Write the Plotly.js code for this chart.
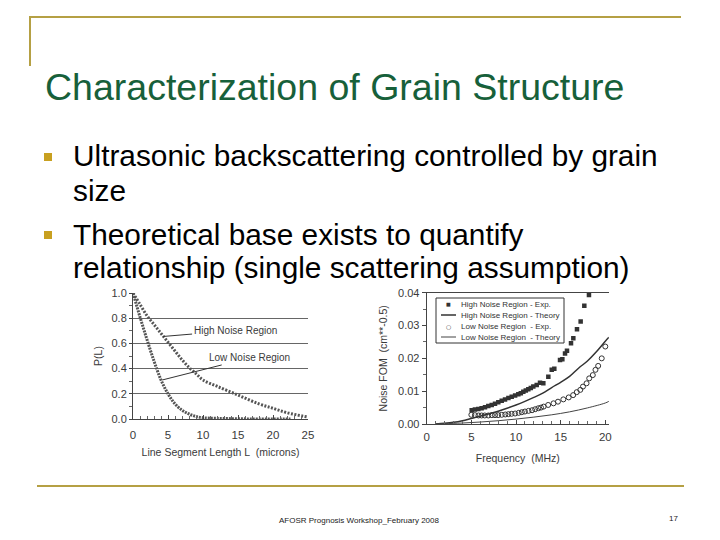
<!DOCTYPE html>
<html><head><meta charset="utf-8">
<script src="https://cdn.plot.ly/plotly-3.0.1.min.js"></script>
<style>html,body{margin:0;padding:0;background:#fff}#chart{width:720px;height:540px}</style>
</head><body><div id="chart"></div><script>
// ---- slide text ----
const slideTitle = "Characterization of Grain Structure";
const bulletLines = [
  "Ultrasonic backscattering controlled by grain",
  "size",
  "Theoretical base exists to quantify",
  "relationship (single scattering assumption)"
];
const footerText = "AFOSR Prognosis Workshop_February 2008";
const pageNumber = "17";

// ---- left chart: P(L) vs line segment length ----
const segLenHigh = [0,1,2,3,4,5,6,7,8,9,10,12,15,18,20,22,25];
const pHigh      = [1.0,0.91,0.82,0.75,0.68,0.61,0.54,0.47,0.41,0.36,0.31,0.26,0.19,0.12,0.085,0.05,0.015];
const segLenLow  = [0,1,2,3,4,5,6,7,8,9,10,12,15,18,22.5];
const pLow       = [1.0,0.81,0.63,0.46,0.31,0.2,0.12,0.07,0.04,0.02,0.01,0.005,0.002,0.0,0.0];
const leftXTicks = [0,5,10,15,20,25];
const leftYTicks = [0.0,0.2,0.4,0.6,0.8,1.0];

// ---- right chart: Noise FOM vs frequency ----
const freqHighExp = [5.04,5.4,5.78,6.15,6.53,6.9,7.28,7.65,8.02,8.4,8.77,9.15,9.52,9.9,10.26,10.54,10.82,11.1,11.38,11.66,11.94,12.32,12.69,13.06,13.62,14.0,14.29,14.93,15.19,15.49,15.71,16.16,16.42,16.83,17.24,17.65,18.17];
const fomHighExp  = [0.0042,0.0044,0.0046,0.0048,0.0051,0.0055,0.0058,0.0062,0.0066,0.0071,0.0075,0.0079,0.0083,0.0087,0.0091,0.0094,0.0098,0.0102,0.0106,0.0110,0.0114,0.0119,0.0126,0.0124,0.0144,0.0165,0.0168,0.0195,0.0197,0.0215,0.0223,0.0246,0.0261,0.0289,0.0312,0.0360,0.0393];
const freqHighTh = [1,2,3,4,5,6,7,8,9,10,11,12,13,14,15,16,17,18,19,20,20.4];
const fomHighTh  = [0,0.0002,0.0005,0.0010,0.0017,0.0024,0.0031,0.0039,0.0048,0.0058,0.0069,0.0081,0.0094,0.0111,0.0127,0.0145,0.0170,0.0192,0.0220,0.0252,0.0264];
const freqLowExp = [5.0,5.4,5.8,6.15,6.5,6.9,7.3,7.65,8.0,8.4,8.8,9.15,9.5,9.9,10.3,10.65,11.0,11.4,11.8,12.15,12.5,12.8,13.1,13.6,14.2,14.7,15.3,15.9,16.4,16.8,17.2,17.5,17.9,18.2,18.6,18.9,19.2,19.6,20.0];
const fomLowExp  = [0.0028,0.0027,0.0026,0.0026,0.0026,0.0026,0.0027,0.0027,0.0027,0.0028,0.0029,0.0030,0.0031,0.0032,0.0034,0.0036,0.0038,0.0040,0.0042,0.0045,0.0048,0.0050,0.0053,0.0058,0.0063,0.0068,0.0075,0.0081,0.0088,0.0097,0.0104,0.0114,0.0124,0.0139,0.0149,0.0165,0.0177,0.0200,0.0236];
const freqLowTh = [1,2,4,6,8,10,12,14,16,18,20,20.4];
const fomLowTh  = [0,0.0001,0.0003,0.0006,0.0010,0.0015,0.0021,0.0028,0.0037,0.0049,0.0064,0.0069];
const seriesNames = ["High Noise Region - Exp.","High Noise Region - Theory","Low Noise Region  - Exp.","Low Noise Region  - Theory"];
const rightXTicks = [0,5,10,15,20];
const rightYTicks = [0.00,0.01,0.02,0.03,0.04];

const W = 720, H = 540;
const px = v => v / W, py = v => 1 - v / H;
const ink = '#3a3a3a';
const gold = '#b5a044';
const font = 'Liberation Sans, Arial, sans-serif';

const traces = [
  {x: segLenHigh, y: pHigh, xaxis:'x', yaxis:'y', mode:'lines', line:{color:'#555', width:3, dash:'2px,1.5px', shape:'spline'}, showlegend:false, hoverinfo:'skip'},
  {x: segLenLow, y: pLow, xaxis:'x', yaxis:'y', mode:'lines', line:{color:'#555', width:3, dash:'2px,1px', shape:'spline'}, showlegend:false, hoverinfo:'skip'},
  {x: freqHighExp, y: fomHighExp, xaxis:'x2', yaxis:'y2', mode:'markers', name: seriesNames[0], marker:{symbol:'square', size:4.5, color:'#333'}, showlegend:false},
  {x: freqHighTh, y: fomHighTh, xaxis:'x2', yaxis:'y2', mode:'lines', name: seriesNames[1], line:{color:'#333', width:1.5, shape:'spline'}, showlegend:false},
  {x: freqLowExp, y: fomLowExp, xaxis:'x2', yaxis:'y2', mode:'markers', name: seriesNames[2], marker:{symbol:'circle-open', size:5, color:'#333', line:{width:1}}, showlegend:false},
  {x: freqLowTh, y: fomLowTh, xaxis:'x2', yaxis:'y2', mode:'lines', name: seriesNames[3], line:{color:'#444', width:1, shape:'spline'}, showlegend:false}
];

// compact hand-built legend (Plotly legend rows cannot be this tight)
const legTop = 298, legRow = 11, legLeft = 436, legRight = 564;
const legendShapes = [
  {type:'rect', xref:'paper', yref:'paper', x0:px(legLeft), x1:px(legRight), y0:py(legTop), y1:py(legTop + 4*legRow + 1), fillcolor:'#fff', line:{color:'#333', width:1}},
  {type:'line', xref:'paper', yref:'paper', x0:px(441), x1:px(456), y0:py(legTop + 1.5*legRow + 0.5), y1:py(legTop + 1.5*legRow + 0.5), line:{color:'#333', width:1.5}},
  {type:'line', xref:'paper', yref:'paper', x0:px(441), x1:px(456), y0:py(legTop + 3.5*legRow + 0.5), y1:py(legTop + 3.5*legRow + 0.5), line:{color:'#444', width:1}}
];
const legendAnn = [];
seriesNames.forEach((n, i) => {
  legendAnn.push({xref:'paper', yref:'paper', x:px(459), y:py(legTop + (i + 0.5)*legRow + 0.5), xanchor:'left', yanchor:'middle', showarrow:false,
    text:n, font:{family:font, size:8, color:'#333'}});
});
legendAnn.push({xref:'paper', yref:'paper', x:px(448), y:py(legTop + 0.5*legRow + 0.5), xanchor:'center', yanchor:'middle', showarrow:false, text:'■', font:{family:'DejaVu Sans', size:5, color:'#333'}});
legendAnn.push({xref:'paper', yref:'paper', x:px(448), y:py(legTop + 2.5*legRow + 0.5), xanchor:'center', yanchor:'middle', showarrow:false, text:'○', font:{family:'DejaVu Sans', size:6, color:'#333'}});

const tickFont = {family: font, size: 11, color: ink};
const layout = {
  width: W, height: H,
  margin: {l:0, r:0, t:0, b:0},
  paper_bgcolor: '#fff', plot_bgcolor: 'rgba(0,0,0,0)',
  font: {family: font, color: ink},
  showlegend: false,
  xaxis: {domain:[px(133), px(308)], anchor:'y', range:[0,25], tickvals: leftXTicks, ticktext: leftXTicks.map(String),
          showgrid:false, zeroline:false, showline:true, linecolor:'#444', linewidth:1, ticks:'inside', ticklen:4, tickcolor:'#444',
          minor:{dtick:1, ticks:'inside', ticklen:3, tickcolor:'#666'}, tickfont: {family:font, size:11.5, color:ink}, ticklabelstandoff:5,
          title:{text:'Line Segment Length L  (microns)', font:{family:font, size:10.5, color:ink}, standoff:8}},
  yaxis: {domain:[py(419), py(293)], anchor:'x', range:[0,1], tickvals: leftYTicks, ticktext: leftYTicks.map(v=>v.toFixed(1)),
          showgrid:true, gridcolor:'#666', gridwidth:1, zeroline:false, showline:true, linecolor:'#444', linewidth:1,
          ticks:'outside', ticklen:3, tickcolor:'#444', minor:{dtick:0.1, ticks:'outside', ticklen:3, tickcolor:'#666', showgrid:false},
          tickfont: tickFont, title:{text:'P(L)', font:{family:font, size:10.5, color:ink}, standoff:6}},
  xaxis2: {domain:[px(426.7), px(426.7 + 20.4*8.93)], anchor:'y2', range:[0,20.4], tickvals: rightXTicks, ticktext: rightXTicks.map(String),
          showgrid:false, zeroline:false, showline:true, mirror:true, linecolor:'#444', linewidth:1, ticks:'inside', ticklen:4, tickcolor:'#444',
          minor:{dtick:1, ticks:'inside', ticklen:3, tickcolor:'#666'}, tickfont: {family:font, size:11.5, color:ink}, ticklabelstandoff:2,
          title:{text:'Frequency  (MHz)', font:{family:font, size:10.5, color:ink}, standoff:12}},
  yaxis2: {domain:[py(424), py(292.7)], anchor:'x2', range:[0,0.04], tickvals: rightYTicks, ticktext: rightYTicks.map(v=>v.toFixed(2)),
          showgrid:false, zeroline:false, showline:true, linecolor:'#444', linewidth:1, ticks:'outside', ticklen:4, tickcolor:'#444',
          minor:{dtick:0.005, ticks:'outside', ticklen:3, tickcolor:'#666'}, tickfont: tickFont,
          title:{text:'Noise FOM  (cm**-0.5)', font:{family:font, size:10.5, color:ink}, standoff:8}},
  shapes: [
    {type:'line', xref:'paper', yref:'paper', x0:px(30), x1:px(681), y0:py(17), y1:py(17), line:{color:gold, width:2}},
    {type:'line', xref:'paper', yref:'paper', x0:px(30), x1:px(30), y0:py(16), y1:py(66), line:{color:gold, width:2}},
    {type:'line', xref:'paper', yref:'paper', x0:px(37), x1:px(684), y0:py(486), y1:py(486), line:{color:gold, width:2}},
    {type:'rect', xref:'paper', yref:'paper', x0:px(44), x1:px(52), y0:py(153), y1:py(161), fillcolor:'#c8a020', line:{width:0}},
    {type:'rect', xref:'paper', yref:'paper', x0:px(44), x1:px(52), y0:py(231), y1:py(239), fillcolor:'#c8a020', line:{width:0}}
  ].concat(legendShapes),
  annotations: [
    {xref:'paper', yref:'paper', x:px(43), y:py(87), xanchor:'left', yanchor:'middle', showarrow:false, text: slideTitle,
     font:{family:font, size:37.5, color:'#17603a'}},
    {xref:'paper', yref:'paper', x:px(71), y:py(156), xanchor:'left', yanchor:'middle', showarrow:false, text: bulletLines[0], font:{family:font, size:29.8, color:'#000'}},
    {xref:'paper', yref:'paper', x:px(71), y:py(191), xanchor:'left', yanchor:'middle', showarrow:false, text: bulletLines[1], font:{family:font, size:29.8, color:'#000'}},
    {xref:'paper', yref:'paper', x:px(71), y:py(235), xanchor:'left', yanchor:'middle', showarrow:false, text: bulletLines[2], font:{family:font, size:29.8, color:'#000'}},
    {xref:'paper', yref:'paper', x:px(71), y:py(268), xanchor:'left', yanchor:'middle', showarrow:false, text: bulletLines[3], font:{family:font, size:29.8, color:'#000'}},
    {xref:'paper', yref:'paper', x:px(359), y:py(520), xanchor:'center', yanchor:'middle', showarrow:false, text: footerText, font:{family:font, size:8, color:'#222'}},
    {xref:'paper', yref:'paper', x:px(673), y:py(518), xanchor:'center', yanchor:'middle', showarrow:false, text: pageNumber, font:{family:font, size:8, color:'#222'}},
    {xref:'x', yref:'y', x:4.3, y:0.655, ax:72, ay:-6, showarrow:true, arrowhead:0, arrowwidth:1, arrowcolor:'#333',
     text:'High Noise Region', font:{family:font, size:10, color:ink}},
    {xref:'x', yref:'y', x:4.2, y:0.31, ax:87, ay:-22, showarrow:true, arrowhead:0, arrowwidth:1, arrowcolor:'#333',
     text:'Low Noise Region', font:{family:font, size:10, color:ink}}
  ].concat(legendAnn)
};
Plotly.newPlot('chart', traces, layout, {displayModeBar:false, staticPlot:true});
</script></body></html>
